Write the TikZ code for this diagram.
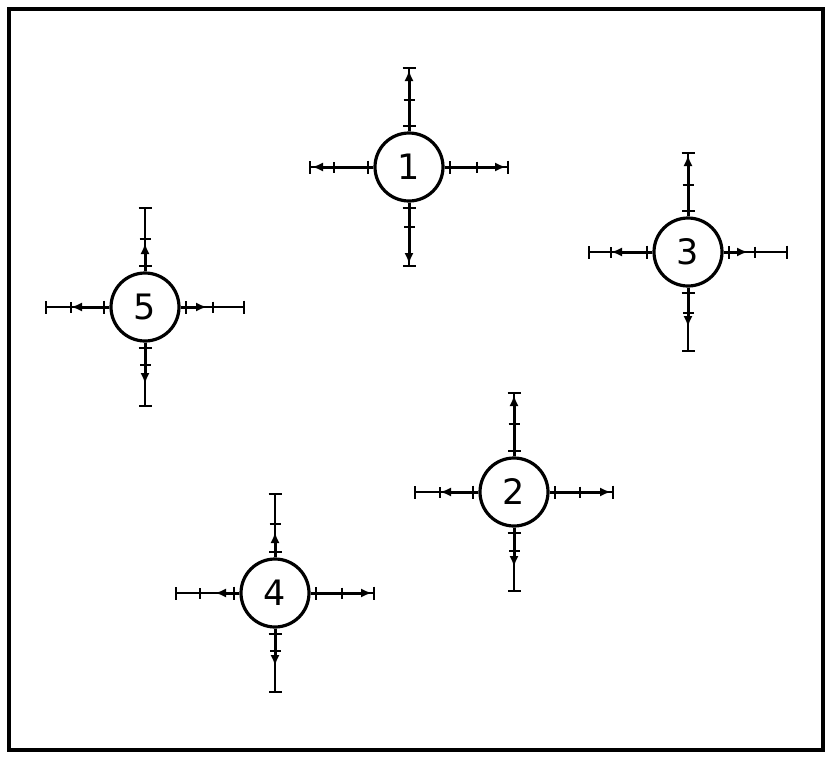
\documentclass[tikz,border=0pt]{standalone}
\usepackage{fontspec}
\setmainfont{DejaVu Sans}
\usetikzlibrary{arrows.meta,calc}

\begin{document}
\begin{tikzpicture}[x=1pt,y=1pt]
  % Estilos de nodos y brazos
  \tikzset{
    site_node/.style={circle,draw,line width=3.2pt,minimum size=68pt,inner sep=0pt,font=\fontsize{35}{35}\selectfont},
    arm_thin/.style={line width=1.5pt,{Bar[width=13pt,line width=2.2pt]}-{Bar[width=13pt,line width=2.2pt]}},
    arm_thick/.style={line width=3pt,-{Latex[length=11pt,width=9pt]}},
    tick_mark/.style={line width=2.4pt}
  }

  \useasboundingbox (0,0) rectangle (831,-756);
  \draw[line width=4.5pt] (9,-9) rectangle (823,-750);

  % Nodos numerados
  \node[site_node] (s1) at (409,-167) {1};
  \node[site_node] (s2) at (514,-492) {2};
  \node[site_node] (s3) at (688,-252) {3};
  \node[site_node] (s4) at (275,-593) {4};
  \node[site_node] (s5) at (145,-307) {5};

  % Brazos: nodo/angulo/marca/punta
  \foreach \n/\a/\t/\h in {s1/90/67/97, s1/270/60/97, s1/180/75/97, s1/0/68/97,
                           s3/90/67/97, s3/180/77/77, s3/0/67/60, s3/270/61/75,
                           s5/90/68/64, s5/180/74/74, s5/0/68/62, s5/270/58/77,
                           s2/90/68/97, s2/180/74/74, s2/0/66/97, s2/270/59/75,
                           s4/90/69/61, s4/180/75/60, s4/0/67/97, s4/270/58/73}{
    \coordinate (\n-\a-in) at ($(\n)+(\a:40)$);
    \coordinate (\n-\a-tk) at ($(\n)+(\a:\t)$);
    \coordinate (\n-\a-hd) at ($(\n)+(\a:\h)$);
    \coordinate (\n-\a-out) at ($(\n)+(\a:100)$);
    \draw[arm_thin] (\n-\a-in) -- (\n-\a-out);
    \draw[arm_thick] (\n.\a) -- (\n-\a-hd);
    \draw[tick_mark] ($(\n-\a-tk)+(\a+90:5.5)$) -- ($(\n-\a-tk)+(\a-90:5.5)$);
  }
\end{tikzpicture}
\end{document}
